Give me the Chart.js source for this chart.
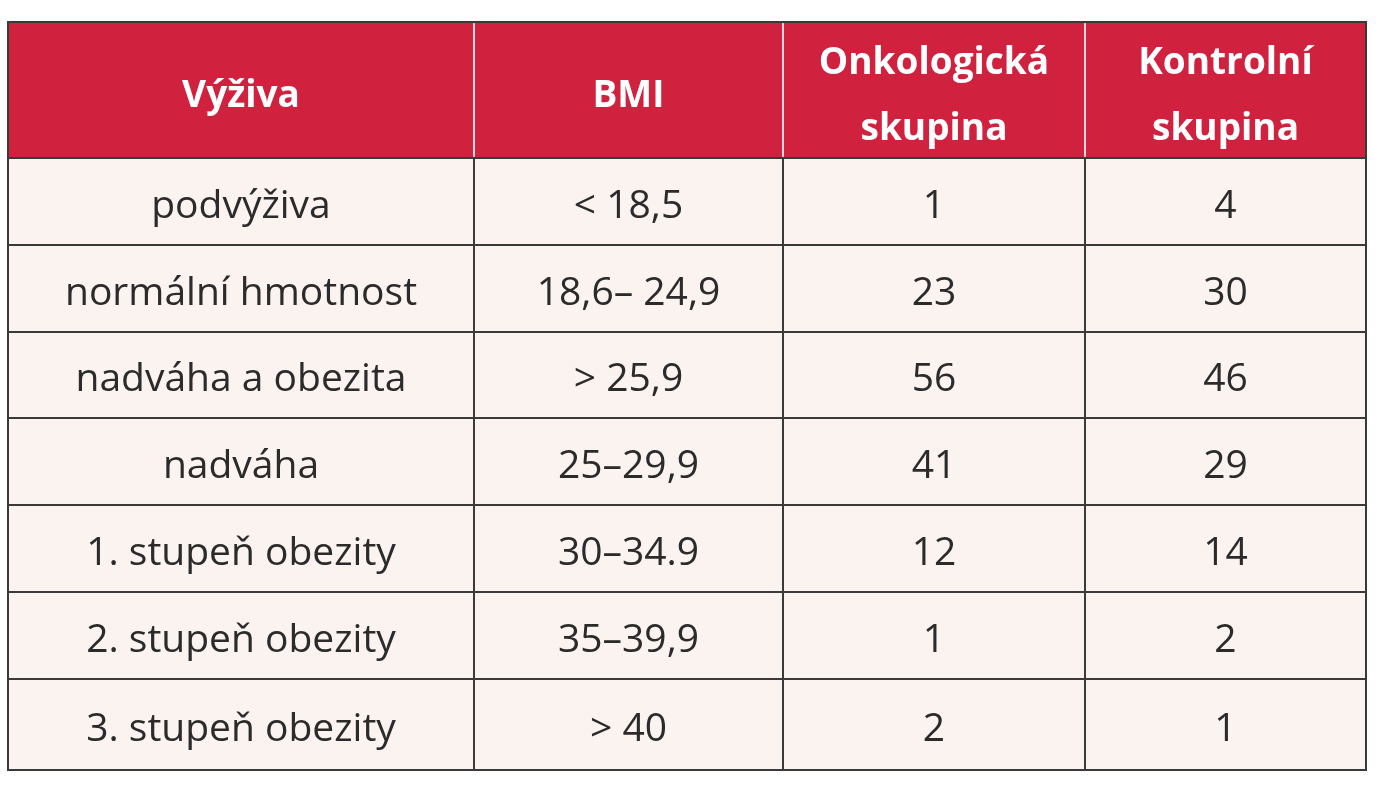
<!DOCTYPE html>
<html>
<head>
<meta charset="utf-8">
<script src="https://cdn.jsdelivr.net/npm/chart.js@4"></script>
<style>
  html, body { margin: 0; padding: 0; background: #fff; }
  canvas { display: block; }
</style>
</head>
<body>
<canvas id="c" width="1384" height="800"></canvas>
<script>
/* global Chart */

const headers = [["Výživa"], ["BMI"], ["Onkologická", "skupina"], ["Kontrolní", "skupina"]];
const categories = ["podvýživa", "normální hmotnost", "nadváha a obezita", "nadváha",
  "1. stupeň obezity", "2. stupeň obezity", "3. stupeň obezity"];
const bmiRanges = ["< 18,5", "18,6– 24,9", "> 25,9", "25–29,9", "30–34.9", "35–39,9", "> 40"];
const oncology = [1, 23, 56, 41, 12, 1, 2];
const control = [4, 30, 46, 29, 14, 2, 1];

// table geometry, in scale units (0..1384 x 0..800)
const colEdges = [8, 474, 783, 1085, 1366];
const rowEdges = [22, 158, 245, 332, 418, 505, 592, 679, 770];

const HEADER_BG = "#d0213f";
const BODY_BG = "#fbf3f0";
const LINE = "#3a3a3a";
const FONT = "'Open Sans', 'Liberation Sans', sans-serif";

const tablePlugin = {
  id: "table",
  afterDraw(chart) {
    const { ctx, scales: { x, y } } = chart;
    const px = v => x.getPixelForValue(v);
    const py = v => y.getPixelForValue(v);
    const L = px(colEdges[0]), R = px(colEdges[colEdges.length - 1]);
    const T = py(rowEdges[0]), B = py(rowEdges[rowEdges.length - 1]);
    const H = py(rowEdges[1]);

    ctx.save();
    ctx.fillStyle = BODY_BG;
    ctx.fillRect(L, H, R - L, B - H);
    ctx.fillStyle = HEADER_BG;
    ctx.fillRect(L, T, R - L, H - T);

    // header separators
    ctx.strokeStyle = "#f3d6dc";
    ctx.lineWidth = 2;
    for (let i = 1; i < colEdges.length - 1; i++) {
      ctx.beginPath(); ctx.moveTo(px(colEdges[i]), T); ctx.lineTo(px(colEdges[i]), H); ctx.stroke();
    }
    // body grid
    ctx.strokeStyle = LINE;
    for (let i = 1; i < colEdges.length - 1; i++) {
      ctx.beginPath(); ctx.moveTo(px(colEdges[i]), H); ctx.lineTo(px(colEdges[i]), B); ctx.stroke();
    }
    for (let j = 1; j < rowEdges.length - 1; j++) {
      ctx.beginPath(); ctx.moveTo(L, py(rowEdges[j])); ctx.lineTo(R, py(rowEdges[j])); ctx.stroke();
    }
    ctx.strokeRect(L, T, R - L, B - T);

    ctx.textAlign = "center";
    ctx.textBaseline = "middle";
    // header text
    ctx.fillStyle = "#ffffff";
    ctx.font = `bold 37px ${FONT}`;
    headers.forEach((lines, c) => {
      const cx = (px(colEdges[c]) + px(colEdges[c + 1])) / 2;
      const cy = (T + H) / 2 + 6;
      const step = 66;
      lines.forEach((t, k) => {
        ctx.fillText(t, cx, cy + (k - (lines.length - 1) / 2) * step);
      });
    });

    // body text
    ctx.fillStyle = "#2b2b2b";
    ctx.font = `39px ${FONT}`;
    const cols = [categories, bmiRanges, oncology, control];
    cols.forEach((vals, c) => {
      const cx = (px(colEdges[c]) + px(colEdges[c + 1])) / 2;
      vals.forEach((v, r) => {
        const cy = (py(rowEdges[r + 1]) + py(rowEdges[r + 2])) / 2 + 5;
        ctx.fillText(String(v), cx, cy);
      });
    });
    ctx.restore();
  }
};

new Chart(document.getElementById("c").getContext("2d"), {
  type: "scatter",
  data: { datasets: [] },
  options: {
    responsive: false,
    animation: false,
    layout: { padding: 0 },
    plugins: { legend: { display: false }, tooltip: { enabled: false } },
    scales: {
      x: { type: "linear", min: 0, max: 1384, display: false },
      y: { type: "linear", min: 0, max: 800, reverse: true, display: false }
    }
  },
  plugins: [tablePlugin]
});
</script>
</body>
</html>
